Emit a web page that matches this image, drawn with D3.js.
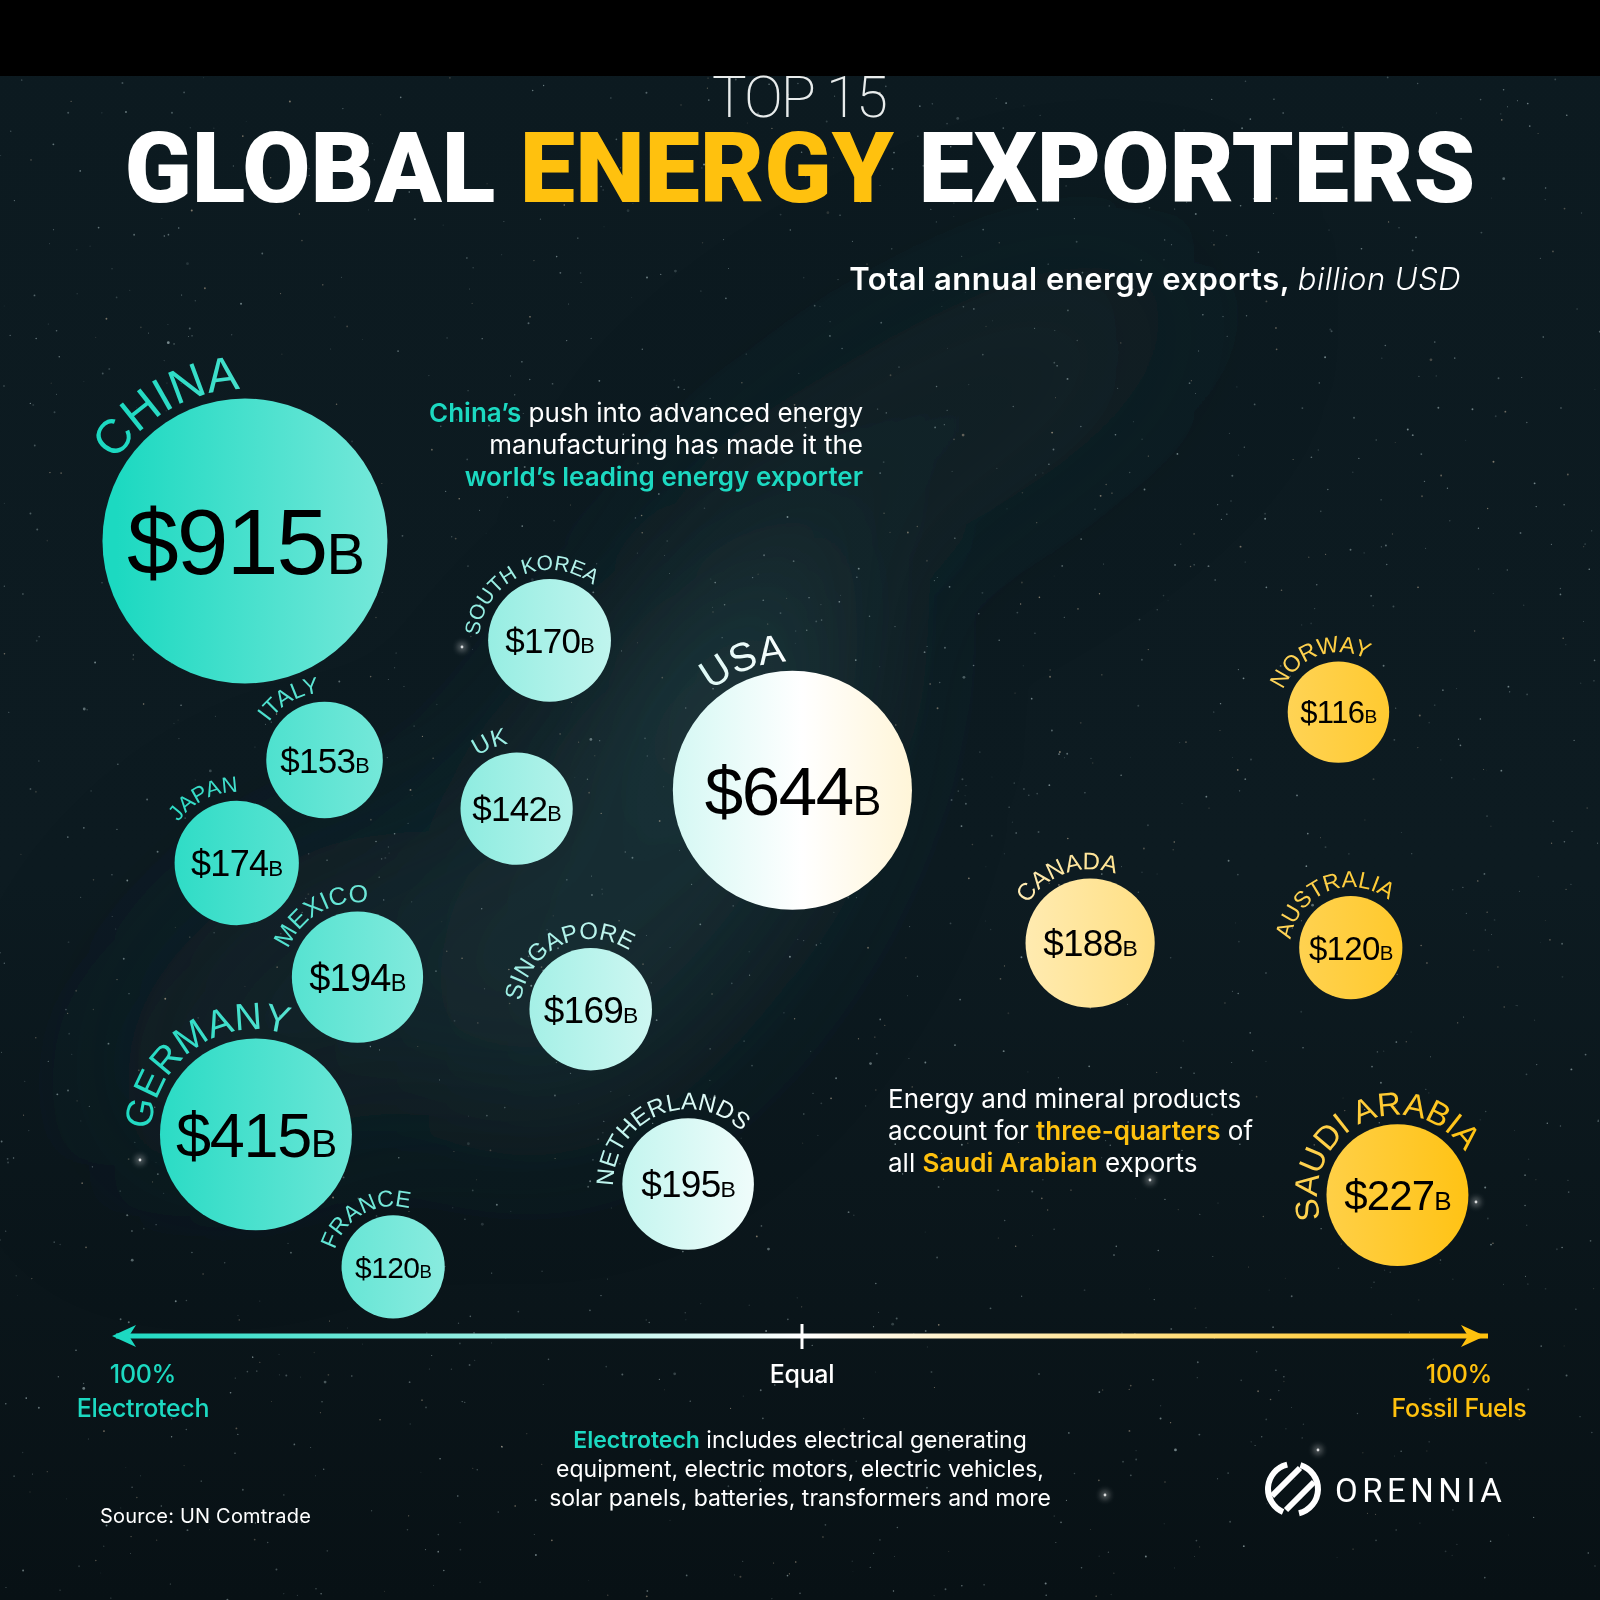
<!DOCTYPE html>
<html>
<head>
  <meta charset="utf-8" />
  <script src="https://d3js.org/d3.v7.min.js"></script>
  <style>
    body {
      margin: 0;
      background: #000;
    }
    svg {
      display: block;
    }
    .sans {
      font-family: Inter, Roboto, "Noto Sans", sans-serif;
    }
    .head {
      font-family: Roboto, "Noto Sans", sans-serif;
    }
    .arial {
      font-family: "Liberation Sans", Arial, sans-serif;
    }
  </style>
</head>
<body>
  <script>
    // data
    var countries = ["China", "South Korea", "Italy", "UK", "Japan", "Mexico", "Germany", "France",
      "Singapore", "Netherlands", "USA", "Canada", "Norway", "Australia", "Saudi Arabia"];
    var exportsBn = [915, 170, 153, 142, 174, 194, 415, 120, 169, 195, 644, 188, 116, 120, 227];
    // share of fossil fuels in energy exports (0 = all electrotech, 1 = all fossil)
    var fossilShare = [0.094, 0.316, 0.152, 0.292, 0.088, 0.176, 0.102, 0.202,
      0.346, 0.417, 0.493, 0.710, 0.891, 0.900, 0.934];
    // vertical slot of each bubble in the plot (0 = top, 1 = bottom), layout only
    var rowPos = [0.175, 0.283, 0.413, 0.466, 0.525, 0.649, 0.820, 0.964,
      0.684, 0.874, 0.446, 0.612, 0.361, 0.617, 0.886];

    // label styling per bubble: [arc mid angle (deg), label px, value px]
    var labelStyle = {
      "China": [-30, 48, 93],
      "South Korea": [-24, 21, 35],
      "Italy": [-30, 23, 35],
      "UK": [-22, 24, 35],
      "Japan": [-27, 22, 36],
      "Mexico": [-30, 25, 38],
      "Germany": [-35, 38, 63],
      "France": [-29, 23, 30],
      "Singapore": [-25, 24, 37],
      "Netherlands": [-23, 24, 37],
      "USA": [-21, 40, 69],
      "Canada": [-19, 24, 37],
      "Norway": [-20, 23, 31],
      "Australia": [-22, 23, 33],
      "Saudi Arabia": [-25, 33, 42]
    };

    var teal = "#1cd9c1";
    var gold = "#ffc10e";

    var W = 1600, H = 1600;
    var x = d3.scaleLinear().domain([0, 1]).range([116, 1488]);
    var y = d3.scaleLinear().domain([0, 1]).range([380, 1300]);
    var r = d3.scaleSqrt().domain([0, 915]).range([0, 142.5]);
    var axisY = 1336;

    var svg = d3.select("body")
      .append("svg")
      .attr("width", W)
      .attr("height", H);

    var defs = svg.append("defs");

    // shared gradient: the colour of a bubble is its place on the axis
    var grad = defs.append("linearGradient")
      .attr("id", "mix")
      .attr("gradientUnits", "userSpaceOnUse")
      .attr("x1", x(0)).attr("x2", x(1))
      .attr("y1", 0).attr("y2", 0);
    grad.append("stop").attr("offset", "0").attr("stop-color", teal);
    grad.append("stop").attr("offset", "0.5").attr("stop-color", "#ffffff");
    grad.append("stop").attr("offset", "1").attr("stop-color", gold);

    var blur = defs.append("filter").attr("id", "haze")
      .attr("x", "-50%").attr("y", "-50%").attr("width", "200%").attr("height", "200%");
    blur.append("feGaussianBlur").attr("stdDeviation", 80);

    var glow = defs.append("filter").attr("id", "glow")
      .attr("x", "-200%").attr("y", "-200%").attr("width", "500%").attr("height", "500%");
    glow.append("feGaussianBlur").attr("stdDeviation", 3);

    // ---- background: night sky ----
    var bgGrad = defs.append("linearGradient")
      .attr("id", "sky").attr("x1", 0).attr("y1", 0).attr("x2", 0).attr("y2", 1);
    bgGrad.append("stop").attr("offset", "0").attr("stop-color", "#0c1a20");
    bgGrad.append("stop").attr("offset", "0.55").attr("stop-color", "#0d1b21");
    bgGrad.append("stop").attr("offset", "1").attr("stop-color", "#081115");

    svg.append("rect")
      .attr("width", W).attr("height", H)
      .attr("fill", "url(#sky)");

    var haze = svg.append("g").attr("filter", "url(#haze)");
    [
      [640, 860, 300, 150, -55, "#2a5057", 0.35],
      [930, 430, 300, 100, -30, "#1f3e45", 0.22],
      [300, 1000, 220, 120, -40, "#1c3a40", 0.3],
      [740, 660, 160, 80, -50, "#33605f", 0.25]
    ].forEach(function(h) {
      haze.append("ellipse")
        .attr("cx", h[0]).attr("cy", h[1])
        .attr("rx", h[2]).attr("ry", h[3])
        .attr("transform", `rotate(${h[4]} ${h[0]} ${h[1]})`)
        .attr("fill", h[5])
        .attr("opacity", h[6]);
    });

    var rnd = d3.randomLcg(0.4217);
    var stars = svg.append("g");
    for (var s = 0; s < 1800; s++) {
      var sx = rnd() * W, sy = 76 + rnd() * (H - 76);
      var big = rnd();
      stars.append("circle")
        .attr("cx", sx).attr("cy", sy)
        .attr("r", big > 0.985 ? 1.4 : 0.45 + rnd() * 0.55)
        .attr("fill", rnd() > 0.8 ? "#f3d9b8" : "#d8eef0")
        .attr("opacity", 0.12 + rnd() * 0.4);
    }
    [[462, 647], [1150, 1180], [1476, 1202], [1105, 1495], [140, 1160], [1318, 1450]].forEach(function(p) {
      stars.append("circle").attr("cx", p[0]).attr("cy", p[1]).attr("r", 4)
        .attr("fill", "#ffffff").attr("opacity", 0.45).attr("filter", "url(#glow)");
      stars.append("circle").attr("cx", p[0]).attr("cy", p[1]).attr("r", 1.4)
        .attr("fill", "#ffffff").attr("opacity", 0.8);
    });

    // black band at the top
    svg.append("rect").attr("width", W).attr("height", 76).attr("fill", "#000");

    // ---- title ----
    svg.append("text")
      .attr("class", "head")
      .attr("x", 799).attr("y", 117)
      .attr("text-anchor", "middle")
      .attr("font-size", 58)
      .attr("font-weight", 200)
      .attr("letter-spacing", -2)
      .attr("fill", "#e8ecec")
      .text("TOP 15");

    var title = svg.append("text")
      .attr("class", "head")
      .attr("x", 800).attr("y", 202)
      .attr("text-anchor", "middle")
      .attr("font-size", 98)
      .attr("font-weight", 900)
      .attr("textLength", 1351)
      .attr("lengthAdjust", "spacingAndGlyphs")
      .attr("fill", "#ffffff");
    title.append("tspan").text("GLOBAL ");
    title.append("tspan").attr("fill", gold).text("ENERGY");
    title.append("tspan").text(" EXPORTERS");

    var sub = svg.append("text")
      .attr("class", "sans")
      .attr("x", 1461).attr("y", 290)
      .attr("text-anchor", "end")
      .attr("font-size", 31)
      .attr("letter-spacing", 0.5)
      .attr("fill", "#ffffff");
    sub.append("tspan").attr("font-weight", 600).text("Total annual energy exports, ");
    sub.append("tspan").attr("font-style", "italic").attr("font-weight", 300).text("billion USD");

    // ---- bubbles ----
    var bubbles = countries.map(function(c, i) {
      var st = labelStyle[c];
      return {
        name: c,
        value: exportsBn[i],
        cx: x(fossilShare[i]),
        cy: y(rowPos[i]),
        r: r(exportsBn[i]),
        angle: st[0],
        labelSize: st[1],
        valueSize: st[2]
      };
    });

    function arcPath(d) {
      var R = d.r + 9;
      var a0 = (d.angle - 150) * Math.PI / 180;
      var a1 = (d.angle + 150) * Math.PI / 180;
      var p0 = [d.cx + R * Math.sin(a0), d.cy - R * Math.cos(a0)];
      var p1 = [d.cx + R * Math.sin(a1), d.cy - R * Math.cos(a1)];
      return `M${p0[0]},${p0[1]} A${R},${R} 0 1 1 ${p1[0]},${p1[1]}`;
    }

    defs.selectAll(".arc")
      .data(bubbles)
      .enter()
      .append("path")
      .attr("class", "arc")
      .attr("id", function(d, i) { return "arc" + i; })
      .attr("d", arcPath);

    var bub = svg.append("g")
      .selectAll("g")
      .data(bubbles)
      .enter()
      .append("g");

    bub.append("circle")
      .attr("cx", function(d) { return d.cx; })
      .attr("cy", function(d) { return d.cy; })
      .attr("r", function(d) { return d.r; })
      .attr("fill", "url(#mix)");

    bub.append("text")
      .attr("class", "arial")
      .attr("font-size", function(d) { return d.labelSize; })
      .attr("fill", "url(#mix)")
      .append("textPath")
      .attr("href", function(d, i) { return "#arc" + i; })
      .attr("startOffset", "50%")
      .attr("text-anchor", "middle")
      .text(function(d) { return d.name.toUpperCase(); });

    var val = bub.append("text")
      .attr("class", "arial")
      .attr("x", function(d) { return d.cx; })
      .attr("y", function(d) { return d.cy + 0.36 * d.valueSize; })
      .attr("text-anchor", "middle")
      .attr("font-size", function(d) { return d.valueSize; })
      .attr("letter-spacing", function(d) { return -0.02 * d.valueSize; })
      .attr("fill", "#000");
    val.append("tspan").text(function(d) { return "$" + d.value; });
    val.append("tspan")
      .attr("font-size", function(d) { return 0.62 * d.valueSize; })
      .text("B");

    // ---- annotations ----
    function note(lines, opt) {
      lines.forEach(function(parts, i) {
        var t = svg.append("text")
          .attr("class", "sans")
          .attr("x", opt.x)
          .attr("y", opt.y + i * opt.lh)
          .attr("text-anchor", opt.anchor)
          .attr("font-size", opt.size)
          .attr("fill", "#ffffff");
        parts.forEach(function(p) {
          var ts = t.append("tspan").text(p[0]);
          if (p[1]) ts.attr("fill", p[1]).attr("font-weight", 600);
        });
      });
    }

    note([
      [["China’s", teal], [" push into advanced energy"]],
      [["manufacturing has made it the"]],
      [["world’s leading energy exporter", teal]]
    ], { x: 863, y: 422, lh: 32, anchor: "end", size: 26 });

    note([
      [["Energy and mineral products"]],
      [["account for "], ["three-quarters", gold], [" of"]],
      [["all "], ["Saudi Arabian", gold], [" exports"]]
    ], { x: 888, y: 1108, lh: 32, anchor: "start", size: 26 });

    note([
      [["Electrotech", teal], [" includes electrical generating"]],
      [["equipment, electric motors, electric vehicles,"]],
      [["solar panels, batteries, transformers and more"]]
    ], { x: 800, y: 1448, lh: 29, anchor: "middle", size: 23 });

    // ---- axis ----
    var axis = svg.append("g");
    axis.append("rect")
      .attr("x", x(0)).attr("y", axisY - 2.5)
      .attr("width", x(1) - x(0)).attr("height", 5)
      .attr("fill", "url(#mix)");
    axis.append("path")
      .attr("d", `M${x(0) - 4},${axisY} L${x(0) + 20},${axisY - 11} L${x(0) + 13},${axisY} L${x(0) + 20},${axisY + 11} Z`)
      .attr("fill", teal);
    axis.append("path")
      .attr("d", `M${x(1) - 3},${axisY} L${x(1) - 27},${axisY - 11} L${x(1) - 20},${axisY} L${x(1) - 27},${axisY + 11} Z`)
      .attr("fill", gold);
    axis.append("line")
      .attr("x1", x(0.5)).attr("x2", x(0.5))
      .attr("y1", axisY - 12).attr("y2", axisY + 13)
      .attr("stroke", "#ffffff")
      .attr("stroke-width", 3);

    var axisLabels = [
      { share: 0, lines: ["100%", "Electrotech"], color: teal, dx: 27 },
      { share: 0.5, lines: ["Equal"], color: "#ffffff", dx: 0 },
      { share: 1, lines: ["100%", "Fossil Fuels"], color: gold, dx: -29 }
    ];
    axisLabels.forEach(function(a) {
      a.lines.forEach(function(l, i) {
        svg.append("text")
          .attr("class", "sans")
          .attr("x", x(a.share) + a.dx)
          .attr("y", axisY + 47 + i * 34)
          .attr("text-anchor", "middle")
          .attr("font-size", 25)
          .attr("font-weight", 500)
          .attr("letter-spacing", -0.3)
          .attr("fill", a.color)
          .text(l);
      });
    });

    // ---- footer ----
    svg.append("text")
      .attr("class", "sans")
      .attr("x", 100).attr("y", 1523)
      .attr("font-size", 20)
      .attr("letter-spacing", 0.2)
      .attr("fill", "#ffffff")
      .text("Source: UN Comtrade");

    var logo = svg.append("g").attr("transform", "translate(1293 1489)");
    var ring = d3.arc().innerRadius(22).outerRadius(28);
    [[-0.25, 2.75], [3.0, 5.9]].forEach(function(seg) {
      logo.append("path")
        .attr("d", ring({ startAngle: seg[0] + 0.55, endAngle: seg[1] + 0.15 }))
        .attr("fill", "#ffffff");
    });
    [-7, 7].forEach(function(o) {
      logo.append("line")
        .attr("x1", -14 + o).attr("y1", 14 + o)
        .attr("x2", 14 + o).attr("y2", -14 + o)
        .attr("stroke", "#ffffff")
        .attr("stroke-width", 6);
    });
    svg.append("text")
      .attr("class", "head")
      .attr("x", 1335).attr("y", 1502)
      .attr("font-size", 33)
      .attr("letter-spacing", 4.5)
      .attr("fill", "#ffffff")
      .text("ORENNIA");
  </script>
</body>
</html>
